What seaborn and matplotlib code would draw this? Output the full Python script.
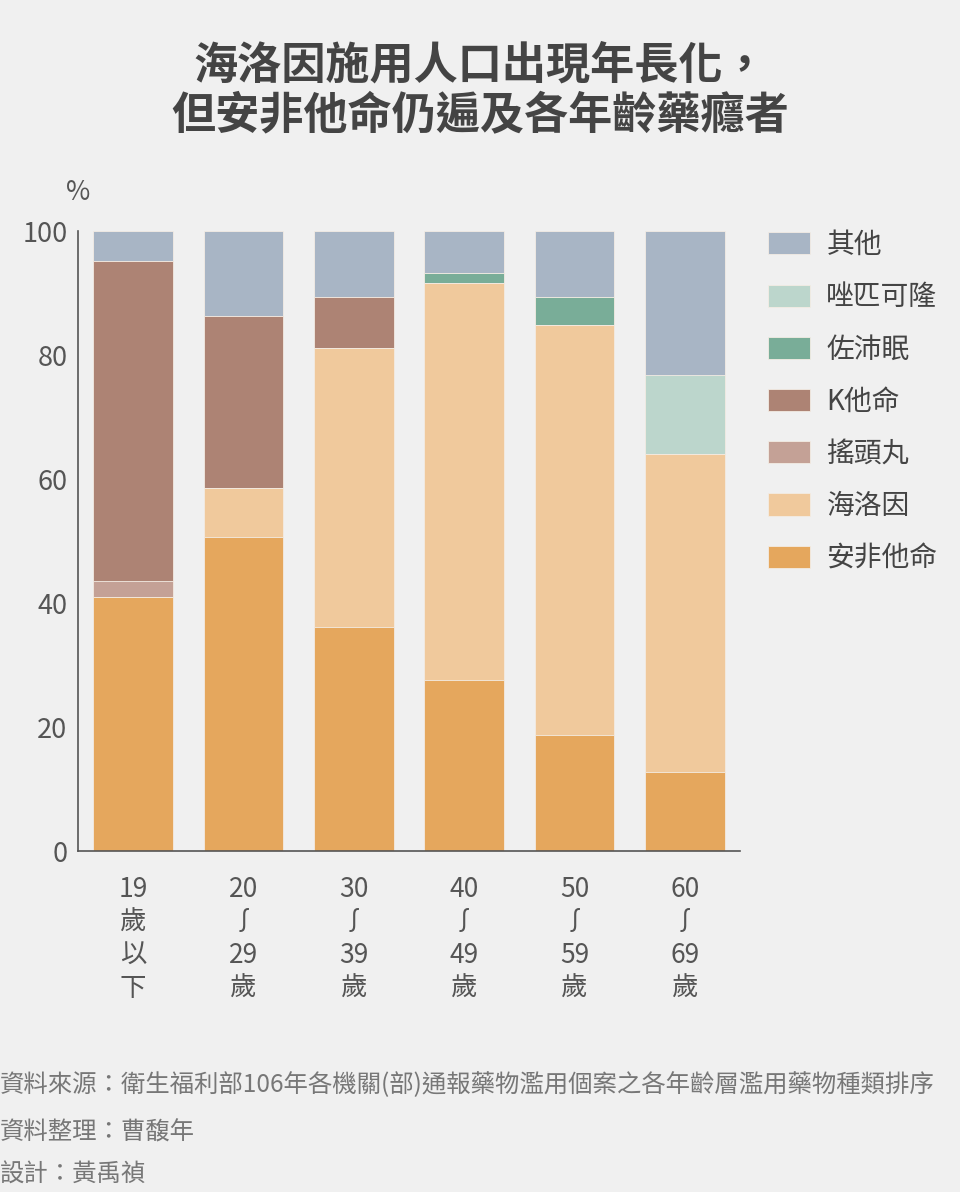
import matplotlib
matplotlib.use("Agg")
import matplotlib.pyplot as plt
import seaborn as sns
import pandas as pd
import numpy as np
from matplotlib.patches import Patch

# ---- data ----
categories = ["19\n歲\n以\n下", "20\n∫\n29\n歲", "30\n∫\n39\n歲", "40\n∫\n49\n歲", "50\n∫\n59\n歲", "60\n∫\n69\n歲"]
amphetamine = [41.0, 50.6, 36.1, 27.6, 18.7, 12.7]   # 安非他命
heroin      = [0.0, 7.9, 45.0, 64.0, 66.1, 51.3]     # 海洛因
ecstasy     = [2.5, 0.0, 0.0, 0.0, 0.0, 0.0]         # 搖頭丸
ketamine    = [51.7, 27.8, 8.3, 0.0, 0.0, 0.0]       # K他命
zolpidem    = [0.0, 0.0, 0.0, 1.6, 4.6, 0.0]         # 佐沛眠
zopiclone   = [0.0, 0.0, 0.0, 0.0, 0.0, 12.8]        # 唑匹可隆
others      = [4.8, 13.7, 10.6, 6.8, 10.6, 23.2]     # 其他

series_names = ["安非他命", "海洛因", "搖頭丸", "K他命", "佐沛眠", "唑匹可隆", "其他"]
series_vals = [amphetamine, heroin, ecstasy, ketamine, zolpidem, zopiclone, others]
colors = ["#e5a75d", "#f0c99c", "#c4a196", "#ad8374", "#79ad98", "#bcd6cc", "#a8b5c5"]

yticks = [0, 20, 40, 60, 80, 100]
title = "海洛因施用人口出現年長化，\n但安非他命仍遍及各年齡藥癮者"
notes = ["資料來源：衛生福利部106年各機關(部)通報藥物濫用個案之各年齡層濫用藥物種類排序",
         "資料整理：曹馥年",
         "設計：黃禹禎"]

# ---- style ----
BG = "#f0f0f0"
sns.set_theme(style="white")
FAM = ["Noto Sans CJK TC", "DejaVu Sans"]
plt.rcParams["font.family"] = FAM
plt.rcParams["axes.facecolor"] = BG
plt.rcParams["figure.facecolor"] = BG

fig = plt.figure(figsize=(9.6, 11.92), dpi=100)
ax = fig.add_axes([78/960, 1 - 851/1192, (740-78)/960, (851-231)/1192])
ax.set_facecolor(BG)

cum = np.cumsum(np.array(series_vals), axis=0)
# draw from top layer down so lower layers cover upper ones
for i in range(len(series_names) - 1, -1, -1):
    df = pd.DataFrame({"cat": categories, "val": cum[i]})
    sns.barplot(data=df, x="cat", y="val", order=categories, color=colors[i],
                saturation=1, width=0.72, errorbar=None, ax=ax,
                edgecolor="#f3ece4", linewidth=0.6)

ax.set_xlim(-0.5, 5.5)
ax.set_ylim(0, 100)
ax.set_xlabel("")
ax.set_ylabel("")
ax.set_yticks(yticks)
ax.set_yticklabels([str(v) for v in yticks])
for s in ["top", "right"]:
    ax.spines[s].set_visible(False)
for s in ["left", "bottom"]:
    ax.spines[s].set_color("#555555")
    ax.spines[s].set_linewidth(1.2)

ax.tick_params(axis="y", length=0, pad=7.5, labelsize=19.5, labelcolor="#555555")
ax.tick_params(axis="x", length=0, pad=18, labelsize=19, labelcolor="#555555")
for lab in ax.get_xticklabels():
    lab.set_linespacing(1.28)
    lab.set_family(FAM)
ax.set_xticks(np.arange(0.5, 6.0, 1.0), minor=True)
ax.tick_params(axis="x", which="minor", direction="in", length=4, width=0.8, color="#bbbbbb")

ax.text(0, 1.062, "%", transform=ax.transAxes, ha="center", va="center",
        fontsize=19, color="#555555")

fig.text(0.5, 0.924, title, ha="center", va="center", fontsize=31.8,
         fontweight="bold", color="#444444", linespacing=1.2)

handles = [Patch(facecolor=colors[i], edgecolor="#f3ece4", linewidth=0.6, label=series_names[i])
           for i in range(len(series_names) - 1, -1, -1)]
leg = fig.legend(handles=handles, loc="upper left", bbox_to_anchor=(768/960, 1 - 230/1192),
                 frameon=False, fontsize=20, handlelength=1.5, handleheight=0.85,
                 handletextpad=0.6, labelspacing=0.8, borderpad=0, borderaxespad=0)
for t in leg.get_texts():
    t.set_color("#444444")

ys = [1085, 1132, 1175]
for y, n in zip(ys, notes):
    fig.text(0.0, 1 - y/1192, n, ha="left", va="center", fontsize=17.6, color="#777777")

fig.savefig("out.png", dpi=100, facecolor=BG)
